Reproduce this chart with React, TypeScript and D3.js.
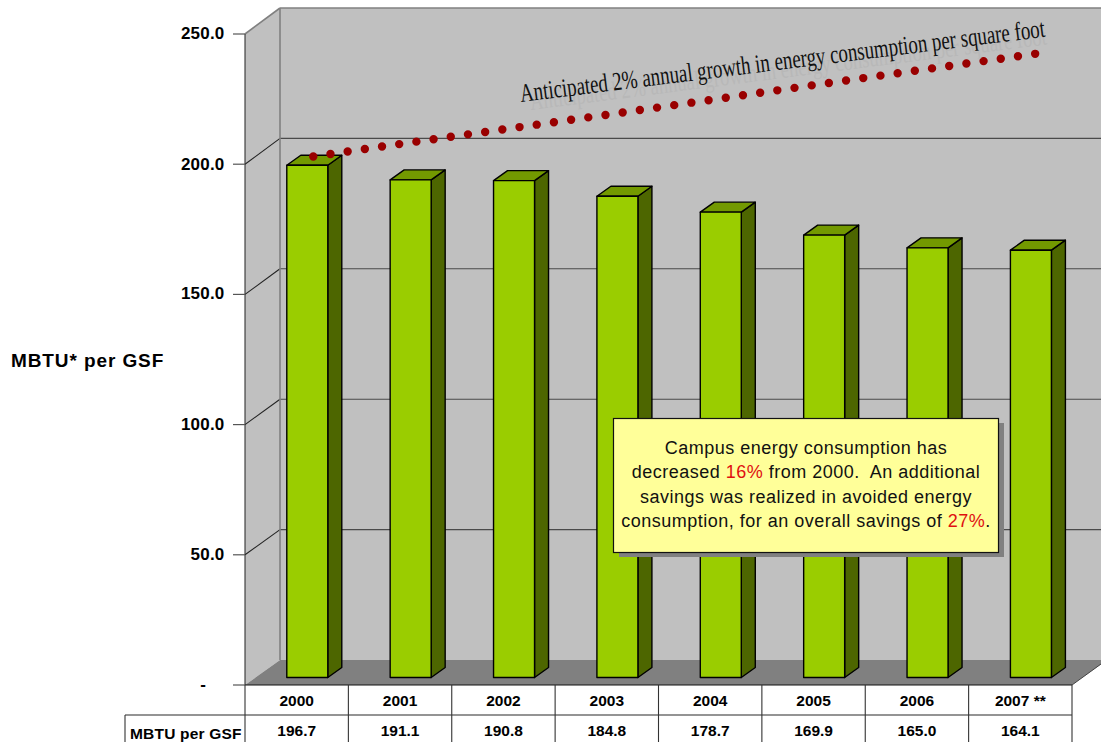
import React from "react";
import * as d3 from "d3";

const years = ["2000", "2001", "2002", "2003", "2004", "2005", "2006", "2007 **"];
const mbtuPerGsf = [196.7, 191.1, 190.8, 184.8, 178.7, 169.9, 165.0, 164.1];
const anticipated = [200.1, 205.8, 211.4, 217.0, 222.7, 228.4, 234.0, 239.6];
const axisTicks = [0, 50, 100, 150, 200, 250];
const rowLabel = "MBTU per GSF";
const axisTitle = "MBTU* per GSF";
const trendNote = "Anticipated 2% annual growth in energy consumption per square foot";

type Run = { t: string; red?: boolean };
const calloutLines: Run[][] = [
  [{ t: "Campus energy consumption has" }],
  [{ t: "decreased " }, { t: "16%", red: true }, { t: " from 2000.  An additional" }],
  [{ t: "savings was realized in avoided energy" }],
  [{ t: "consumption, for an overall savings of " }, { t: "27%", red: true }, { t: "." }],
];

const W = 1101;
const H = 742;
const SANS = "'Liberation Sans', Arial, sans-serif";
const SERIF = "'Liberation Serif', 'Times New Roman', serif";

// Chart box: front plane of the 3D walls, and how far the back wall is pushed away.
const left = 245;
const right = 1072;
const depthX = 35;

const yFront = d3.scaleLinear().domain([0, 250]).range([685, 34]);
const yBack = d3.scaleLinear().domain([0, 250]).range([660, 8]);
const yBar = d3.scaleLinear().domain([0, 250]).range([677.5, 26.5]);
const xBand = d3.scaleBand<string>().domain(years).range([left, right]);

const barW = 41;
const barShift = 10.6;
const sideX = 14;
const sideY = 10;

// The slanted note is a horizontally condensed serif: its width in ems sets the squeeze.
const noteSize = 26;
const noteEm = 27.9;
const noteSqueeze = (span: number) => span / (noteSize * noteEm);

const fmt = d3.format(".1f");

export default function App() {
  const floorPts = [
    [left, 685],
    [left + depthX, 660],
    [right + depthX, 660],
    [right, 685],
  ];
  const wallPts = [
    [left, yFront(250)],
    [left + depthX, yBack(250)],
    [left + depthX, yBack(0)],
    [left, yFront(0)],
  ];
  const trendLine = d3
    .line<number>()
    .x((_, i) => xBand(years[i])! + xBand.bandwidth() / 2 + barShift + sideX / 2 - 1)
    .y((d) => yBar(d))(anticipated)!;

  const rowY = [685, 715, H + 2];

  return (
    <svg
      width={W}
      height={H}
      viewBox={`0 0 ${W} ${H}`}
      style={{ position: "absolute", left: 0, top: 0, display: "block", background: "#fff" }}
    >
      {/* Walls and floor */}
      <rect x={left + depthX} y={yBack(250)} width={W - left - depthX} height={yBack(0) - yBack(250)} fill="#c0c0c0" />
      <polygon points={wallPts.join(" ")} fill="#c0c0c0" />
      <polygon points={floorPts.join(" ")} fill="#808080" />

      {/* Gridlines running over the left wall and along the back wall */}
      {axisTicks.slice(1).map((v) => {
        const top = v === 250;
        const stroke = top ? "#808080" : "#4a4a4a";
        const sw = top ? 1.6 : 1.1;
        return (
          <g key={v}>
            <line x1={left} y1={yFront(v)} x2={left + depthX} y2={yBack(v)} stroke={top ? "#808080" : "#222"} strokeWidth={sw} />
            <line x1={left + depthX} y1={yBack(v)} x2={W} y2={yBack(v)} stroke={stroke} strokeWidth={sw} />
          </g>
        );
      })}
      <line x1={left + depthX} y1={yBack(250)} x2={left + depthX} y2={yBack(0)} stroke="#808080" strokeWidth={1.6} />
      <line x1={left} y1={yFront(250)} x2={left} y2={yFront(0)} stroke="#333" strokeWidth={1.1} />

      {/* Value axis */}
      {axisTicks.map((v) => (
        <g key={v}>
          <line x1={233} y1={yFront(v)} x2={left} y2={yFront(v)} stroke="#555" strokeWidth={1.2} />
          <text
            x={v === 0 ? 206 : 224.5}
            y={yFront(v) + (v === 200 ? 6 : 5)}
            textAnchor="end"
            fontFamily={SANS}
            fontWeight="bold"
            fontSize={17}
            letterSpacing={0.2}
            fill="#000"
          >
            {v === 0 ? "-" : fmt(v)}
          </text>
        </g>
      ))}
      <text x={11} y={367} fontFamily={SANS} fontWeight="bold" fontSize={19} letterSpacing={0.9} fill="#000">
        {axisTitle}
      </text>

      {/* Bars */}
      {mbtuPerGsf.map((v, i) => {
        const x = xBand(years[i])! + xBand.bandwidth() / 2 + barShift - barW / 2;
        const top = yBar(v);
        const base = yBar(0);
        return (
          <g key={years[i]} stroke="#000" strokeWidth={1.4} strokeLinejoin="round">
            <polygon
              points={`${x + barW},${top} ${x + barW + sideX},${top - sideY} ${x + barW + sideX},${base - sideY} ${x + barW},${base}`}
              fill="#4d6600"
            />
            <polygon
              points={`${x},${top} ${x + sideX},${top - sideY} ${x + barW + sideX},${top - sideY} ${x + barW},${top}`}
              fill="#739900"
            />
            <rect x={x} y={top} width={barW} height={base - top} fill="#9acd00" />
          </g>
        );
      })}

      {/* Projected growth */}
      <path d={trendLine} fill="none" stroke="#990000" strokeWidth={8.4} strokeLinecap="round" strokeDasharray="0 17.36" />
      <g fontFamily={SERIF} fontSize={noteSize}>
        <text transform={`translate(531,110) rotate(-7.25) scale(${noteSqueeze(521)},1)`} fill="#b8b8b8">
          {trendNote}
        </text>
        <text transform={`translate(521,102) rotate(-7.1) scale(${noteSqueeze(529)},1)`} fill="#111">
          {trendNote}
        </text>
      </g>

      {/* Callout */}
      <rect x={619} y={423} width={385} height={134} fill="#808080" />
      <rect x={613.5} y={418.5} width={385} height={134} fill="#ffff99" stroke="#111" strokeWidth={1.2} />
      {calloutLines.map((runs, i) => (
        <text
          key={i}
          x={806}
          y={454 + i * 24.4}
          textAnchor="middle"
          fontFamily={SANS}
          fontSize={18}
          letterSpacing={0.5}
          fill="#111"
        >
          {runs.map((r, j) => (
            <tspan key={j} fill={r.red ? "#e01010" : undefined} style={{ whiteSpace: "pre" }}>
              {r.t}
            </tspan>
          ))}
        </text>
      ))}

      {/* Data table below the axis */}
      <line x1={left} y1={rowY[0]} x2={right} y2={rowY[0]} stroke="#111" strokeWidth={1.2} />
      <line x1={125} y1={rowY[1]} x2={right} y2={rowY[1]} stroke="#707070" strokeWidth={1.4} />
      <line x1={125} y1={rowY[1]} x2={125} y2={H} stroke="#333" strokeWidth={1.1} />
      <line x1={right} y1={685} x2={right + depthX - 6} y2={664} stroke="#444" strokeWidth={1} />
      {[left, ...years.map((y) => xBand(y)! + xBand.bandwidth())].map((x, i) => (
        <line key={i} x1={x} y1={rowY[0]} x2={x} y2={H} stroke="#333" strokeWidth={1.1} />
      ))}
      {years.map((y, i) => {
        const cx = xBand(y)! + xBand.bandwidth() / 2;
        return (
          <g key={y} fontFamily={SANS} fontWeight="bold" fontSize={15.5} fill="#000" textAnchor="middle">
            <text x={cx} y={705.5}>{y}</text>
            <text x={cx} y={736}>{fmt(mbtuPerGsf[i])}</text>
          </g>
        );
      })}
      <text x={130} y={738.5} fontFamily={SANS} fontWeight="bold" fontSize={15.5} letterSpacing={0.2} fill="#000">
        {rowLabel}
      </text>
    </svg>
  );
}
